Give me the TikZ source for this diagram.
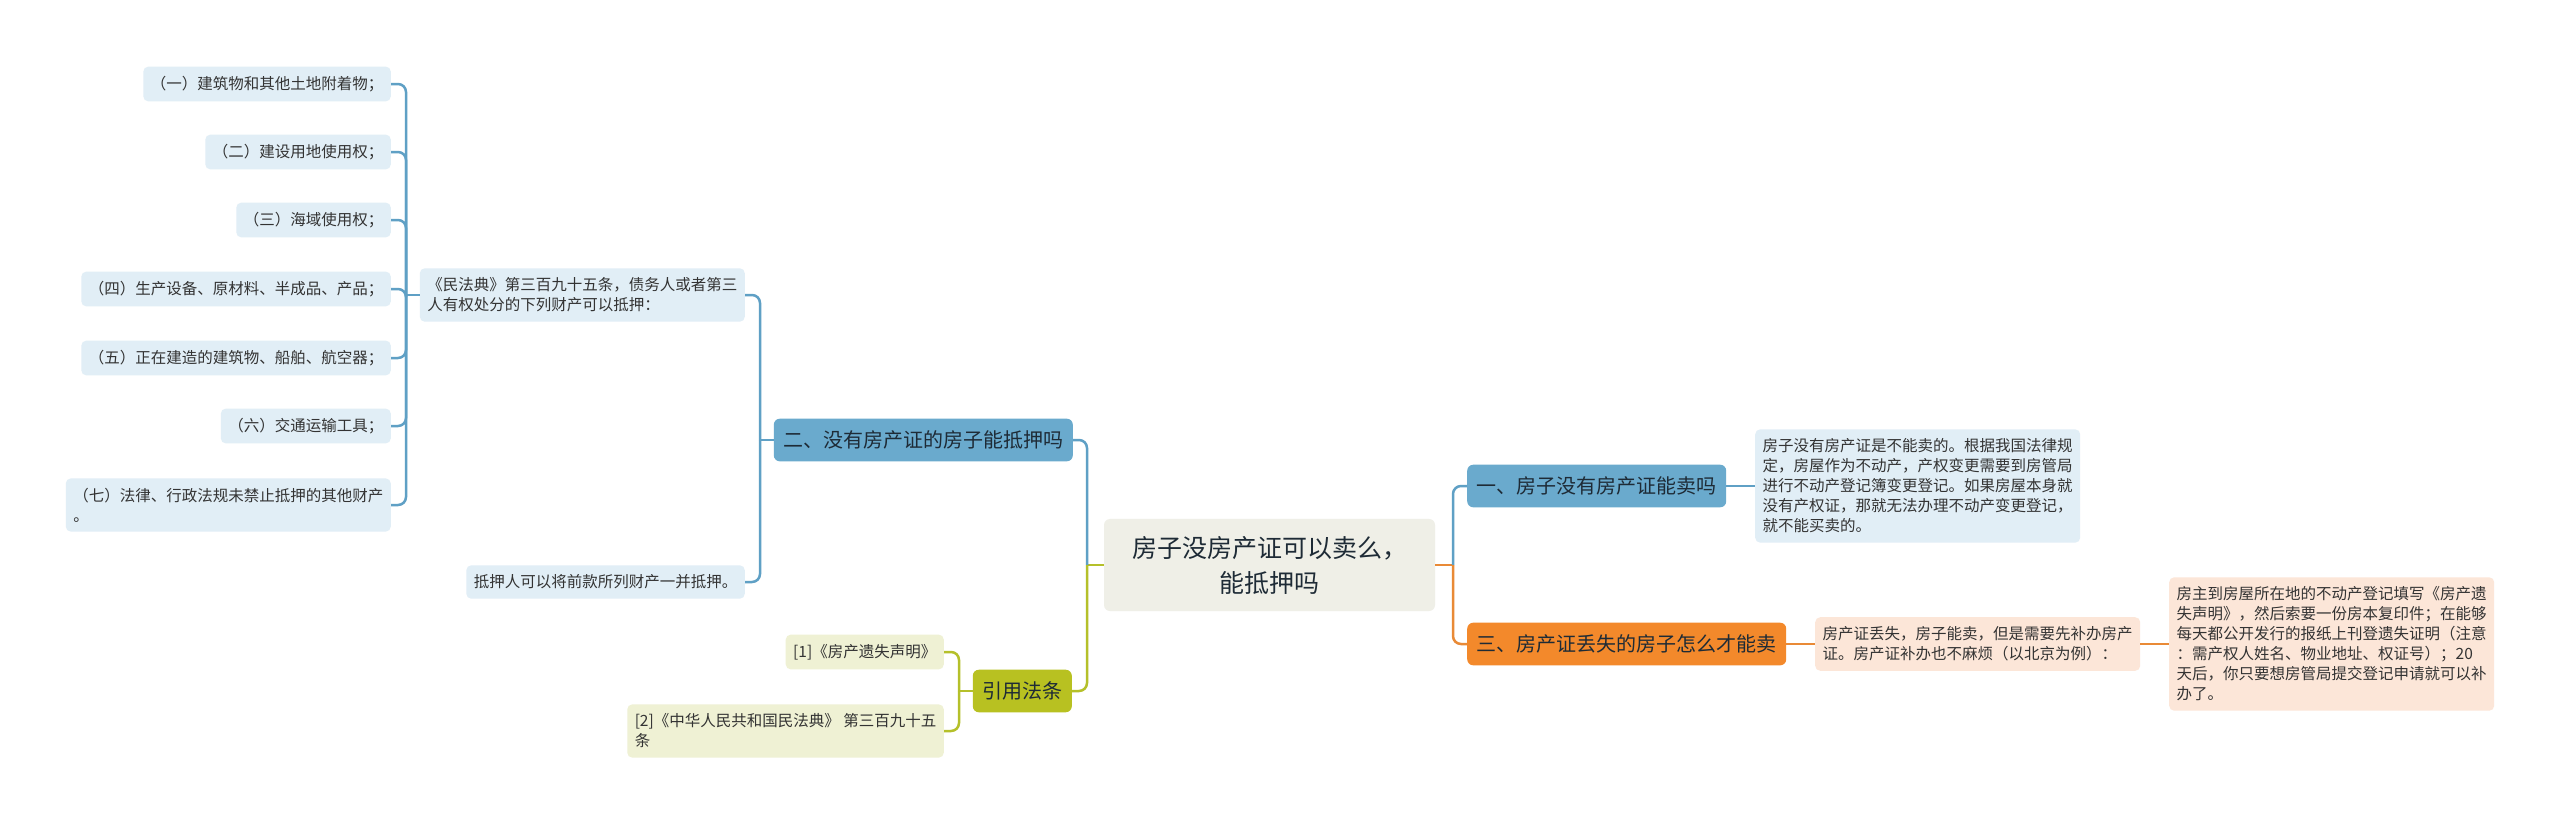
\documentclass[tikz,border=0pt]{standalone}
\usepackage{fontspec}
\setmainfont{Noto Sans CJK SC}
\usetikzlibrary{positioning}
\definecolor{cracine}{HTML}{EFEFE7}
\definecolor{cbleu}{HTML}{6AAACD}
\definecolor{cbleuclair}{HTML}{E1EEF6}
\definecolor{cbleutrait}{HTML}{5FA0C5}
\definecolor{corange}{HTML}{F3892B}
\definecolor{corangeclair}{HTML}{FCE6D8}
\definecolor{corangetrait}{HTML}{E98A36}
\definecolor{cvert}{HTML}{B8C121}
\definecolor{cvertclair}{HTML}{EFF1D4}
\definecolor{cverttrait}{HTML}{B5C02A}
\definecolor{ctexte}{HTML}{333333}
\definecolor{ctitre}{HTML}{1E2B36}

\begin{document}
\begin{tikzpicture}[x=1pt, y=-1pt,
  feuille/.style={rounded corners=5pt, inner xsep=7.5pt, inner ysep=9.5pt,
    font=\fontsize{15.5}{20}\selectfont, align=left, text=ctexte},
  branche/.style={rounded corners=6pt, inner xsep=9.5pt, inner ysep=12pt,
    font=\fontsize{20}{24}\selectfont, text=ctitre},
  lienbleu/.style={cbleutrait, line width=2.5pt, rounded corners=8pt},
  lienorange/.style={corangetrait, line width=2.5pt, rounded corners=8pt},
  lienvert/.style={cverttrait, line width=2.5pt, rounded corners=8pt}]
  \fill[white] (0,0) rectangle (2560,825);
  \useasboundingbox (0,0) rectangle (2560,825);

  % --- racine -------------------------------------------------------------
  \node[fill=cracine, rounded corners=6pt, inner xsep=28pt, inner ysep=17pt,
        font=\fontsize{25}{35}\selectfont, align=center, text=ctitre]
       (racine) at (1269.5,565) {房子没房产证可以卖么，\\能抵押吗};

  % --- branche droite : vente ---------------------------------------------
  \node[branche, fill=cbleu, anchor=west] (vente) at (1467,486)
       {一、房子没有房产证能卖吗};
  \node[feuille, fill=cbleuclair, anchor=west] (reponse) at (1755,486)
       {房子没有房产证是不能卖的。根据我国法律规\\定，房屋作为不动产，产权变更需要到房管局\\进行不动产登记簿变更登记。如果房屋本身就\\没有产权证，那就无法办理不动产变更登记，\\就不能买卖的。};

  % --- branche droite : perte ---------------------------------------------
  \node[branche, fill=corange, anchor=west] (perte) at (1467,644)
       {三、房产证丢失的房子怎么才能卖};
  \node[feuille, fill=corangeclair, anchor=west] (perteA) at (1815,644)
       {房产证丢失，房子能卖，但是需要先补办房产\\证。房产证补办也不麻烦（以北京为例）：};
  \node[feuille, fill=corangeclair, anchor=west] (perteB) at (2169,644)
       {房主到房屋所在地的不动产登记填写《房产遗\\失声明》，然后索要一份房本复印件；在能够\\每天都公开发行的报纸上刊登遗失证明（注意\\：需产权人姓名、物业地址、权证号）；20\\天后，你只要想房管局提交登记申请就可以补\\办了。};

  % --- branche gauche : hypotheque ----------------------------------------
  \node[branche, fill=cbleu, anchor=east] (hypo) at (1073,440)
       {二、没有房产证的房子能抵押吗};
  \node[feuille, fill=cbleuclair, anchor=east] (art) at (745,295)
       {《民法典》第三百九十五条，债务人或者第三\\人有权处分的下列财产可以抵押：};
  \node[feuille, fill=cbleuclair, anchor=east] (tout) at (745,582)
       {抵押人可以将前款所列财产一并抵押。};

  % --- liste des biens ----------------------------------------------------
  \node[feuille, fill=cbleuclair, anchor=east] (bien1) at (391,84)
       {（一）建筑物和其他土地附着物；};
  \node[feuille, fill=cbleuclair, anchor=east] (bien2) at (391,152)
       {（二）建设用地使用权；};
  \node[feuille, fill=cbleuclair, anchor=east] (bien3) at (391,220)
       {（三）海域使用权；};
  \node[feuille, fill=cbleuclair, anchor=east] (bien4) at (391,289)
       {（四）生产设备、原材料、半成品、产品；};
  \node[feuille, fill=cbleuclair, anchor=east] (bien5) at (391,358)
       {（五）正在建造的建筑物、船舶、航空器；};
  \node[feuille, fill=cbleuclair, anchor=east] (bien6) at (391,426)
       {（六）交通运输工具；};
  \node[feuille, fill=cbleuclair, anchor=east] (bien7) at (391,505)
       {（七）法律、行政法规未禁止抵押的其他财产\\。};

  % --- branche gauche : lois ----------------------------------------------
  \node[branche, fill=cvert, anchor=east] (lois) at (1072,691) {引用法条};
  \node[feuille, fill=cvertclair, anchor=east] (ref1) at (944,652)
       {[1]《房产遗失声明》};
  \node[feuille, fill=cvertclair, anchor=east] (ref2) at (944,731)
       {[2]《中华人民共和国民法典》 第三百九十五\\条};

  % --- liens autour de la racine ------------------------------------------
  \coordinate (jd) at (1453,565);
  \coordinate (jg) at (1087,565);
  \draw[lienorange] (racine.east) -- (jd);
  \draw[lienbleu] (jd) |- (vente.west);
  \draw[lienorange] (jd) |- (perte.west);
  \draw[lienvert] (racine.west) -- (jg);
  \draw[lienbleu] (jg) |- (hypo.east);
  \draw[lienvert] (jg) |- (lois.east);

  % --- liens a droite -----------------------------------------------------
  \draw[lienbleu] (vente.east) -- (reponse.west);
  \draw[lienorange] (perte.east) -- (perteA.west);
  \draw[lienorange] (perteA.east) -- (perteB.west);

  % --- liens a gauche -----------------------------------------------------
  \coordinate (jh) at (760,440);
  \draw[lienbleu] (hypo.west) -- (jh);
  \draw[lienbleu] (jh) |- (art.east);
  \draw[lienbleu] (jh) |- (tout.east);

  \coordinate (ja) at (406,295);
  \draw[lienbleu] (art.west) -- (ja);
  \draw[lienbleu] (ja) |- (bien1.east);
  \draw[lienbleu] (ja) |- (bien2.east);
  \draw[lienbleu] (ja) |- (bien3.east);
  \draw[lienbleu] (ja) |- (bien4.east);
  \draw[lienbleu] (ja) |- (bien5.east);
  \draw[lienbleu] (ja) |- (bien6.east);
  \draw[lienbleu] (ja) |- (bien7.east);

  \coordinate (jl) at (959,691);
  \draw[lienvert] (lois.west) -- (jl);
  \draw[lienvert] (jl) |- (ref1.east);
  \draw[lienvert] (jl) |- (ref2.east);
\end{tikzpicture}
\end{document}
